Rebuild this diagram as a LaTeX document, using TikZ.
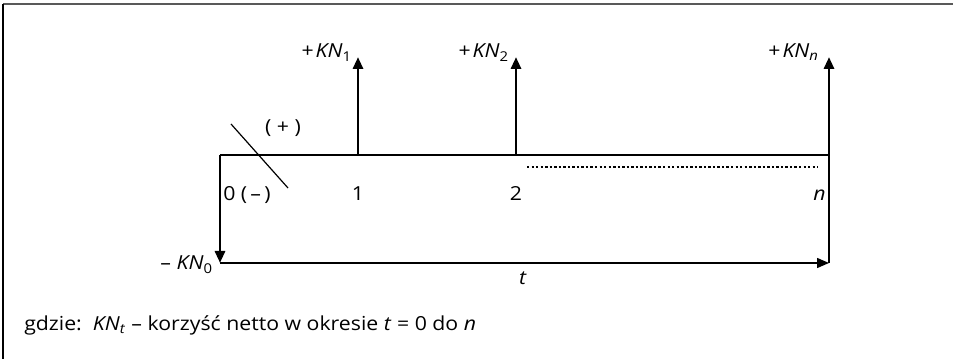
\documentclass[tikz,border=0pt]{standalone}
\usepackage{fontspec}
\setmainfont{Open Sans}[FakeStretch=1.1]
\usetikzlibrary{arrows.meta}
\begin{document}
\begin{tikzpicture}[x=0.75pt,y=-0.75pt,
  thickarrow/.style={line width=2.2pt,-{Triangle[width=7.5pt,length=9pt]}},
  thinline/.style={line width=1.1pt},
  lbl/.style={inner sep=0pt,font=\fontsize{14.5}{16}\selectfont}]
\useasboundingbox (0,0) rectangle (953,359);
\draw[line width=1.6pt,gray!70!black] (3,4) -- (953,4);
\draw[line width=1.2pt] (3,4) -- (3,359);
% points
\coordinate (O) at (220,155);
\coordinate (P1) at (358,155);
\coordinate (P2) at (516,155);
\coordinate (Pn) at (829,155);
\coordinate (T1) at (358,57);
\coordinate (T2) at (516,57);
\coordinate (Tn) at (829,57);
\coordinate (D0) at (220,263);
\coordinate (Bn) at (829,263);
\coordinate (Da) at (527,167);
\coordinate (Db) at (818,167);
\coordinate (Sa) at (231,124);
\coordinate (Sb) at (288,188);
% axis
\draw[thinline] (O) -- (Pn);
\draw[thinline] (Pn) -- (Bn);
\draw[line width=1.1pt,-{Triangle[width=7.5pt,length=9pt]}] (D0) -- (Bn);
\draw[thickarrow] (P1) -- (T1);
\draw[thickarrow] (P2) -- (T2);
\draw[thickarrow] (Pn) -- (Tn);
\draw[thickarrow] (O) -- (D0);
\draw[line width=1.8pt,dash pattern=on 1.8pt off 1.6pt] (Da) -- (Db);
\draw[line width=0.9pt] (Sa) -- (Sb);
% labels
\node[lbl,anchor=base east] (k1) at (352,58) {+\hspace{0.1em}\textit{KN}\textsubscript{1}};
\node[lbl,anchor=base east] (k2) at (509,58) {+\hspace{0.1em}\textit{KN}\textsubscript{2}};
\node[lbl,anchor=base east] (kn) at (819,58) {+\hspace{0.1em}\textit{KN}\textsubscript{\textit{n}}};
\node[lbl] (plus) at (283,128) {(\ +\ )};
\node[lbl,anchor=base west] (l0) at (223,201) {0\ (\,–\,)};
\node[lbl,anchor=base] (l1) at (358,201) {1};
\node[lbl,anchor=base] (l2) at (516,201) {2};
\node[lbl,anchor=base east] (ln) at (826,201) {\textit{n}};
\node[lbl,anchor=base east] (k0) at (213,270) {–\ \textit{KN}\textsubscript{0}};
\node[lbl,anchor=base] (lt) at (523,285) {\textit{t}};
\node[lbl,anchor=base west] (cap) at (24,331) {gdzie:\ \ \textit{KN}\textsubscript{\textit{t}} – korzyść netto w okresie \textit{t} = 0 do \textit{n}};
\end{tikzpicture}
\end{document}
